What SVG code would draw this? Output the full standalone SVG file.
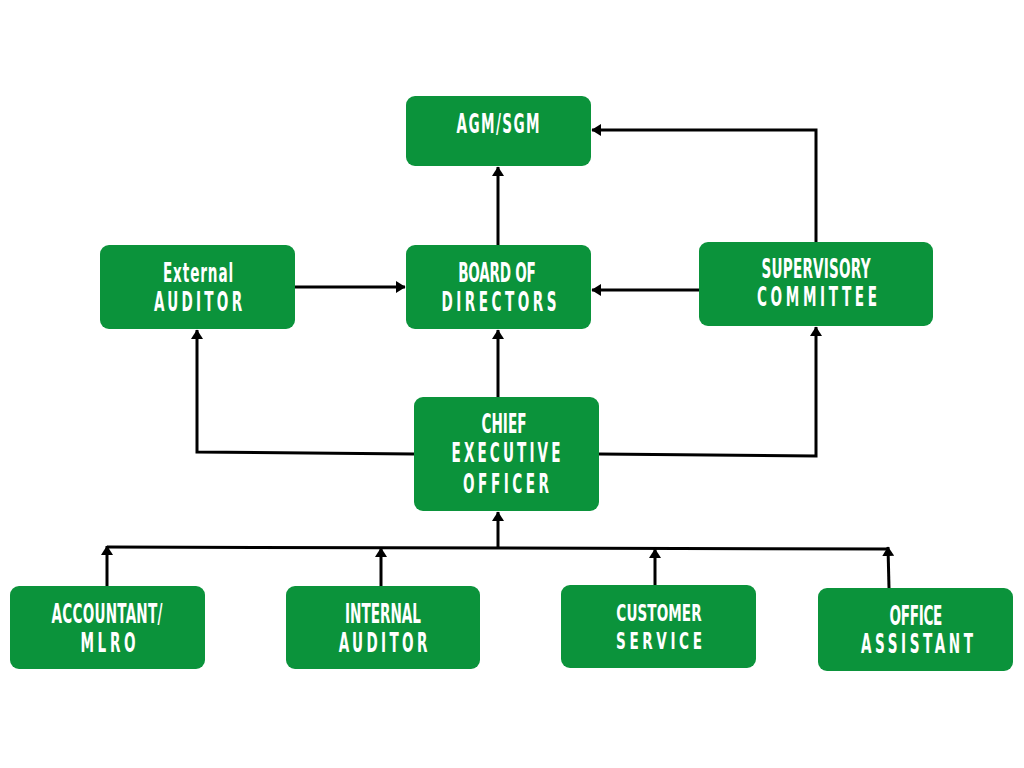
<svg xmlns="http://www.w3.org/2000/svg" width="1024" height="768" viewBox="0 0 1024 768">
<style>
.box{fill:#0B933B;}
.t{fill:#fff;font-family:"DejaVu Sans Condensed","DejaVu Sans","Liberation Sans",sans-serif;font-weight:bold;font-size:26px;text-anchor:middle;}
.s{font-size:23px;}
.ln{fill:none;stroke:#000;stroke-width:3;stroke-linejoin:miter;}
</style>
<defs>
<marker id="ah" markerUnits="userSpaceOnUse" markerWidth="10" markerHeight="12" viewBox="0 0 8 10" refX="7.5" refY="5" orient="auto">
<path d="M0,0 L8,5 L0,10 z" fill="#000"/>
</marker>
</defs>
<rect width="1024" height="768" fill="#fff"/>
<g id="connectors">
<path class="ln" d="M498,245 V167" marker-end="url(#ah)"/>
<path class="ln" d="M816,242 V130 H592" marker-end="url(#ah)"/>
<path class="ln" d="M699,290 H592" marker-end="url(#ah)"/>
<path class="ln" d="M295,287 H405" marker-end="url(#ah)"/>
<path class="ln" d="M498,397 V330" marker-end="url(#ah)"/>
<path class="ln" d="M414,454 L197,452 V330" marker-end="url(#ah)"/>
<path class="ln" d="M599,454 L816,456 V327" marker-end="url(#ah)"/>
<path class="ln" d="M107,547 L888,549"/>
<path class="ln" d="M498,547 V512" marker-end="url(#ah)"/>
<path class="ln" d="M107,586 V546" marker-end="url(#ah)"/>
<path class="ln" d="M381,586 V548" marker-end="url(#ah)"/>
<path class="ln" d="M655,585 V549" marker-end="url(#ah)"/>
<path class="ln" d="M889,588 L888,547" marker-end="url(#ah)"/>
</g>
<g id="agm">
<rect class="box" x="406" y="96" width="185" height="70" rx="9"/>
<text class="t" transform="translate(498,133) scale(0.58,1)" textLength="143" lengthAdjust="spacing">AGM/SGM</text>
</g>
<g id="external-auditor">
<rect class="box" x="100" y="245" width="195" height="84" rx="9"/>
<text class="t" transform="translate(198,282) scale(0.58,1)" textLength="121" lengthAdjust="spacing">External</text>
<text class="t" transform="translate(198,311) scale(0.58,1)" textLength="152" lengthAdjust="spacing">AUDITOR</text>
</g>
<g id="board">
<rect class="box" x="406" y="245" width="185" height="84" rx="9"/>
<text class="t" transform="translate(497,282) scale(0.58,1)" textLength="134" lengthAdjust="spacing">BOARD OF</text>
<text class="t" transform="translate(499,311) scale(0.58,1)" textLength="198" lengthAdjust="spacing">DIRECTORS</text>
</g>
<g id="supervisory">
<rect class="box" x="699" y="242" width="234" height="84" rx="9"/>
<text class="t" transform="translate(816,278) scale(0.58,1)" textLength="188" lengthAdjust="spacing">SUPERVISORY</text>
<text class="t" transform="translate(817,306) scale(0.58,1)" textLength="207" lengthAdjust="spacing">COMMITTEE</text>
</g>
<g id="ceo">
<rect class="box" x="414" y="397" width="185" height="114" rx="9"/>
<text class="t" transform="translate(504,433) scale(0.58,1)" textLength="78" lengthAdjust="spacing">CHIEF</text>
<text class="t" transform="translate(506,462) scale(0.58,1)" textLength="188" lengthAdjust="spacing">EXECUTIVE</text>
<text class="t" transform="translate(506,493) scale(0.58,1)" textLength="148" lengthAdjust="spacing">OFFICER</text>
</g>
<g id="accountant">
<rect class="box" x="10" y="586" width="195" height="83" rx="9"/>
<text class="t" transform="translate(107,623) scale(0.58,1)" textLength="191" lengthAdjust="spacing">ACCOUNTANT/</text>
<text class="t" transform="translate(108,652) scale(0.58,1)" textLength="95" lengthAdjust="spacing">MLRO</text>
</g>
<g id="internal-auditor">
<rect class="box" x="286" y="586" width="194" height="83" rx="9"/>
<text class="t" transform="translate(383,623) scale(0.58,1)" textLength="131" lengthAdjust="spacing">INTERNAL</text>
<text class="t" transform="translate(383,652) scale(0.58,1)" textLength="153" lengthAdjust="spacing">AUDITOR</text>
</g>
<g id="customer-service">
<rect class="box" x="561" y="585" width="195" height="83" rx="9"/>
<text class="t s" transform="translate(659,621) scale(0.656,1)" textLength="130" lengthAdjust="spacing">CUSTOMER</text>
<text class="t s" transform="translate(659,649) scale(0.656,1)" textLength="131" lengthAdjust="spacing">SERVICE</text>
</g>
<g id="office-assistant">
<rect class="box" x="818" y="588" width="195" height="83" rx="9"/>
<text class="t" transform="translate(916,625) scale(0.58,1)" textLength="91" lengthAdjust="spacing">OFFICE</text>
<text class="t" transform="translate(917,653) scale(0.58,1)" textLength="193" lengthAdjust="spacing">ASSISTANT</text>
</g>
</svg>
